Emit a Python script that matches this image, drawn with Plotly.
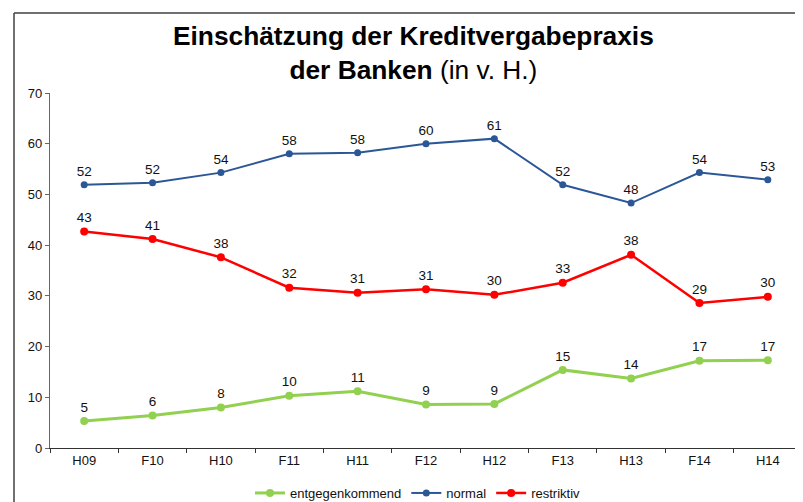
import plotly.graph_objects as go

categories = ["H09", "F10", "H10", "F11", "H11", "F12", "H12", "F13", "H13", "F14", "H14"]
entgegenkommend = [5.3, 6.4, 8.0, 10.3, 11.2, 8.6, 8.7, 15.4, 13.7, 17.2, 17.3]
normal = [51.9, 52.3, 54.3, 58.0, 58.2, 60.0, 61.0, 51.9, 48.3, 54.3, 52.9]
restriktiv = [42.7, 41.2, 37.6, 31.6, 30.6, 31.3, 30.2, 32.6, 38.1, 28.6, 29.8]
y_ticks = [0, 10, 20, 30, 40, 50, 60, 70]

FONT = "Liberation Sans, Arial, sans-serif"

# page body has an 8px margin; work in viewport pixel coordinates
OFF = 8
W, H = 803 - OFF, 502 - OFF
L, R, T, B = 50 - OFF, 1, 93 - OFF, 502 - 448
pw, ph = W - L - R, H - T - B

def px_x(xv):
    return (xv - OFF - L) / pw

def px_y(yv):
    return (H - B - (yv - OFF)) / ph

fig = go.Figure()
series = [
    ("entgegenkommend", entgegenkommend, "#92D050", 3, 8),
    ("normal", normal, "#2B5797", 2, 7),
    ("restriktiv", restriktiv, "#FF0000", 2.5, 8),
]
for name, vals, col, lw, ms in series:
    fig.add_trace(go.Scatter(
        x=categories, y=vals, name=name, mode="lines+markers+text",
        line=dict(color=col, width=lw),
        marker=dict(color=col, size=ms),
        texttemplate="%{y:.0f}", textposition="top center",
        textfont=dict(family=FONT, size=13.5, color="#111111"),
        cliponaxis=False,
    ))

fig.update_layout(
    width=W, height=H,
    margin=dict(l=L, r=R, t=T, b=B, autoexpand=False),
    paper_bgcolor="white", plot_bgcolor="white",
    font=dict(family=FONT, size=13, color="#111111"),
    showlegend=True,
    legend=dict(orientation="h", x=px_x(418), xanchor="center",
                y=px_y(493), yanchor="middle", itemwidth=30,
                font=dict(family=FONT, size=13, color="#111111")),
    xaxis=dict(showgrid=False, showline=True, linecolor="#333333", linewidth=1.2,
               ticks="outside", ticklen=4, tickcolor="#333333", tickson="boundaries",
               tickfont=dict(size=13, color="#111111"), range=[-0.5, 10.5]),
    yaxis=dict(showgrid=False, showline=True, linecolor="#666666", linewidth=1.2,
               ticks="outside", ticklen=4, tickcolor="#666666",
               tickvals=y_ticks, range=[0, 70], zeroline=False,
               tickfont=dict(size=13, color="#111111")),
)

fig.add_annotation(
    text="<b>Einschätzung der Kreditvergabepraxis</b><br><b>der Banken</b> (in v. H.)",
    xref="paper", yref="paper", x=px_x(413), y=px_y(53),
    xanchor="center", yanchor="middle", showarrow=False,
    font=dict(family=FONT, size=26.3, color="#000000"),
)

# outer frame (left and top edges)
fig.add_shape(type="line", xref="paper", yref="paper",
              x0=px_x(14), x1=px_x(14), y0=px_y(13), y1=px_y(520),
              line=dict(color="#404040", width=1.5))
fig.add_shape(type="line", xref="paper", yref="paper",
              x0=px_x(14), x1=px_x(820), y0=px_y(13), y1=px_y(13),
              line=dict(color="#404040", width=1.5))

fig.write_html("out.html")
